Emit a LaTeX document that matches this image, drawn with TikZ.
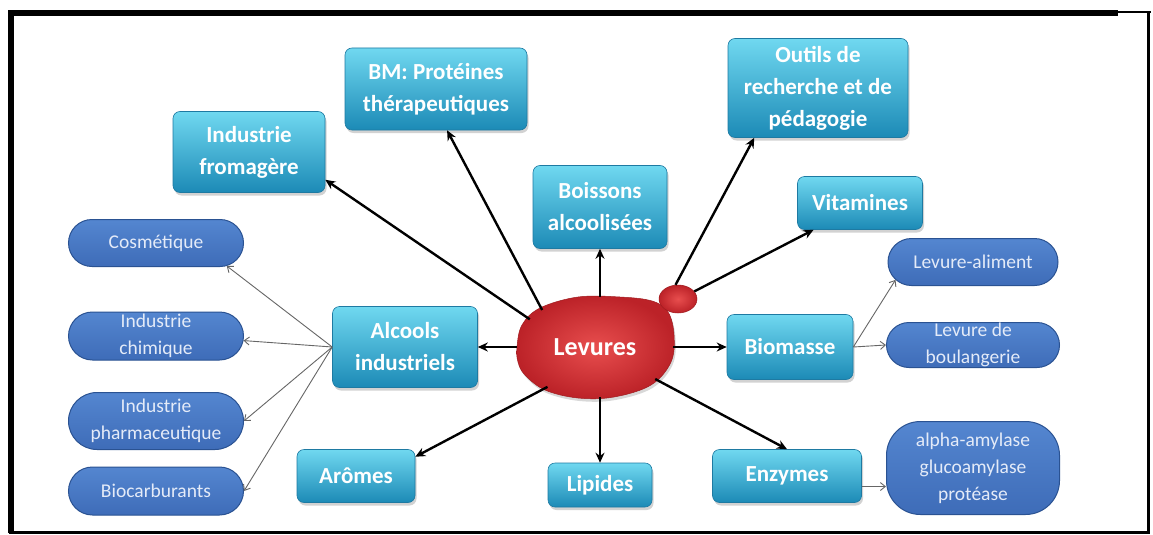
\documentclass[tikz,border=0pt]{standalone}
\usepackage{fontspec}
\setmainfont{Carlito}
\usetikzlibrary{arrows.meta,shadows,calc,shapes.geometric,shapes.misc}

\definecolor{tealtop}{RGB}{112,216,240}
\definecolor{tealmid}{RGB}{44,174,218}
\definecolor{tealbot}{RGB}{28,138,182}
\definecolor{tealedge}{RGB}{30,122,162}
\definecolor{ovaltop}{RGB}{84,134,208}
\definecolor{ovalbot}{RGB}{62,108,184}
\definecolor{ovaledge}{RGB}{42,82,146}
\definecolor{ovaltext}{RGB}{228,235,248}
\definecolor{redin}{RGB}{232,78,78}
\definecolor{redout}{RGB}{188,34,40}
\definecolor{rededge}{RGB}{160,28,32}

\tikzset{
  tealbox/.style={draw=tealedge, line width=0.6pt, rounded corners=7pt,
    top color=tealtop, middle color=tealmid, bottom color=tealbot,
    text=white, font=\fontsize{23}{32}\selectfont\bfseries, align=center,
    inner sep=0pt,
    drop shadow={shadow xshift=1.5pt, shadow yshift=-3pt, opacity=0.35}},
  ovalbox/.style={rounded rectangle, draw=ovaledge, line width=1pt,
    top color=ovaltop, bottom color=ovalbot,
    text=ovaltext, font=\fontsize{19.5}{27}\selectfont, align=center,
    inner sep=0pt, minimum width=175pt},
  redfill/.style={shading=radial, inner color=redin, outer color=redout,
    draw=rededge, line width=0.5pt},
  mainarrow/.style={-{Stealth[length=10pt,width=9pt]}, line width=2.4pt, black},
  subarrow/.style={-{Straight Barb[length=5pt,width=8pt]}, line width=0.9pt, black!60},
}

\begin{document}
\begin{tikzpicture}[x=1pt,y=-1pt]
\useasboundingbox (0,0) rectangle (1153,535);
\fill[white] (0,0) rectangle (1153,535);

% frame
\draw[line width=6pt] (11,533) -- (11,13) -- (1118,13);
\draw[line width=2.5pt] (1118,12) -- (1151,12);
\draw[line width=3pt] (1148,13) -- (1148,532) -- (9,532);

% main teal boxes
\node[tealbox, minimum width=152pt, minimum height=81pt] (fro) at (249,152) {Industrie\\fromagère};
\node[tealbox, minimum width=182pt, minimum height=82pt] (bm) at (436,89) {BM: Protéines\\thérapeutiques};
\node[tealbox, minimum width=180pt, minimum height=99pt] (out) at (818,88) {Outils de\\recherche et de\\pédagogie};
\node[tealbox, minimum width=134pt, minimum height=83pt] (boi) at (600,207) {Boissons\\alcoolisées};
\node[tealbox, minimum width=125pt, minimum height=53pt] (vit) at (860,203) {Vitamines};
\node[tealbox, minimum width=145pt, minimum height=81pt] (alc) at (405,347) {Alcools\\industriels};
\node[tealbox, minimum width=126pt, minimum height=65pt] (bio) at (790,347) {Biomasse};
\node[tealbox, minimum width=118pt, minimum height=53pt] (aro) at (356,476) {Arômes};
\node[tealbox, minimum width=104pt, minimum height=44pt] (lip) at (600,485) {Lipides};
\node[tealbox, minimum width=149pt, minimum height=53pt] (enz) at (787,476) {Enzymes};

% yeast cell
\path[redfill, drop shadow={shadow xshift=1.5pt, shadow yshift=-3pt, opacity=0.3}]
  plot[smooth cycle, tension=0.6] coordinates {(517,347) (522,325) (540,308) (578,297)
  (620,297) (652,301) (668,312) (674,335) (671,362) (651,385) (614,397) (578,398)
  (545,390) (525,375) (518,362)};
\node[ellipse, redfill, minimum width=38pt, minimum height=28pt, inner sep=0pt] (bud) at (678,299) {};
\node[ellipse, minimum width=156pt, minimum height=100pt, inner sep=0pt, text=white,
  font=\fontsize{26}{30}\selectfont\bfseries] (lev) at (595,347) {Levures};

% blue ovals
\node[ovalbox, minimum height=47pt] (cos) at (156,243) {Cosmétique};
\node[ovalbox, minimum height=48pt] (chi) at (156,336) {Industrie\\chimique};
\node[ovalbox, minimum height=57pt] (pha) at (156,421) {Industrie\\pharmaceutique};
\node[ovalbox, minimum height=48pt] (bioc) at (156,491) {Biocarburants};
\node[ovalbox, minimum width=170pt, minimum height=47pt] (lal) at (973,262) {Levure-aliment};
\node[ovalbox, minimum width=173pt, minimum height=45pt] (lbo) at (973,345) {Levure de\\boulangerie};
\node[draw=ovaledge, line width=1pt, rounded corners=34pt, top color=ovaltop, bottom color=ovalbot,
  text=ovaltext, font=\fontsize{19.5}{27}\selectfont, align=center, inner sep=0pt,
  minimum width=173pt, minimum height=93pt] (alp) at (973,468) {alpha-amylase\\glucoamylase\\protéase};

% main arrows
\draw[mainarrow] (lev.157) -- (fro.-20);
\draw[mainarrow] (lev.145) -- (bm.-75);
\draw[mainarrow] (lev.north -| boi.south) -- (boi.south);
\draw[mainarrow] (bud.100) -- (out.-142);
\draw[mainarrow] (bud.25) -- (vit.-150);
\draw[mainarrow] (lev.west) -- (alc.east);
\draw[mainarrow] (lev.east) -- (bio.west);
\draw[mainarrow] (lev.220) -- (aro.18);
\draw[mainarrow] (lev.south -| lip.north) -- (lip.north);
\draw[mainarrow] (lev.-28) -- (enz.north);

% thin arrows
\draw[subarrow] (alc.west) -- (cos.-18);
\draw[subarrow] (alc.west) -- (chi.-3);
\draw[subarrow] (alc.west) -- (pha.east);
\draw[subarrow] (alc.west) -- (bioc.east);
\draw[subarrow] (bio.east) -- (lal.-167);
\draw[subarrow] (bio.east) -- (lbo.west);
\draw[subarrow] (enz.-8) -- (enz.-8 -| alp.west);
\end{tikzpicture}
\end{document}
